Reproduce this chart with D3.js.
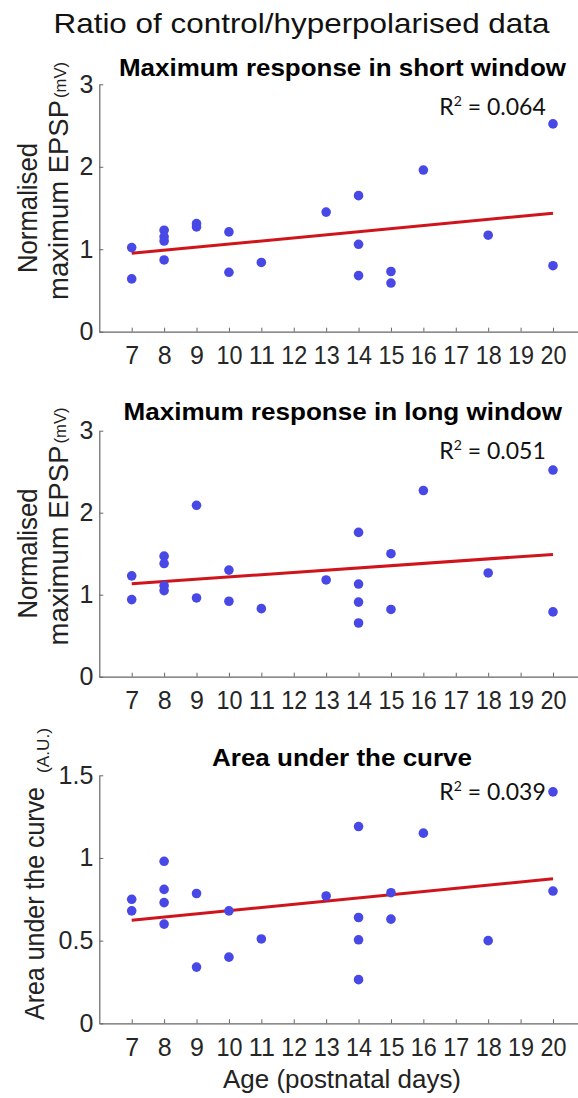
<!DOCTYPE html>
<html>
<head>
<meta charset="utf-8">
<script src="https://cdn.jsdelivr.net/npm/d3@7"></script>
<style>
  html, body { margin: 0; padding: 0; background: #fff; }
  svg { display: block; }
</style>
</head>
<body>
<svg id="chart"></svg>
<script>
// ages (postnatal days) and values for each panel
const agesShort = [7, 7, 8, 8, 8, 8, 9, 9, 10, 10, 11, 13, 14, 14, 14, 15, 15, 16, 18, 20, 20];
const valuesShort = [1.02, 0.64, 1.23, 1.15, 1.10, 0.87, 1.31, 1.27, 1.21, 0.72, 0.84, 1.45, 1.65, 1.06, 0.68, 0.73, 0.59, 1.96, 1.17, 2.52, 0.80];

const agesLong = [7, 7, 8, 8, 8, 8, 9, 9, 10, 10, 11, 13, 14, 14, 14, 14, 15, 15, 16, 18, 20, 20];
const valuesLong = [1.23, 0.94, 1.47, 1.38, 1.11, 1.05, 2.09, 0.96, 1.30, 0.92, 0.83, 1.18, 1.76, 1.13, 0.91, 0.655, 1.50, 0.82, 2.27, 1.265, 2.52, 0.79];

const agesArea = [7, 7, 8, 8, 8, 8, 9, 9, 10, 10, 11, 13, 14, 14, 14, 14, 15, 15, 16, 18, 20, 20];
const valuesArea = [0.75, 0.68, 0.98, 0.81, 0.73, 0.60, 0.785, 0.34, 0.68, 0.40, 0.51, 0.77, 1.19, 0.64, 0.505, 0.264, 0.79, 0.63, 1.15, 0.50, 1.40, 0.80];

const ageTicks = [7, 8, 9, 10, 11, 12, 13, 14, 15, 16, 17, 18, 19, 20];
const panelTitles = ["Maximum response in short window", "Maximum response in long window", "Area under the curve"];
const rSquared = ["0.064", "0.051", "0.039"];
const yTicksMv = [0, 1, 2, 3];
const yTicksArea = [0, 0.5, 1, 1.5];

const width = 578, height = 1098;
const font = "'Liberation Sans', Arial, Helvetica, sans-serif";

const svg = d3.select("#chart").attr("width", width).attr("height", height);
svg.append("rect").attr("width", width).attr("height", height).attr("fill", "#fff");

// Titre principal
svg.append("text")
  .attr("x", 53.5).attr("y", 33)
  .attr("textLength", 496).attr("lengthAdjust", "spacingAndGlyphs")
  .style("font-family", font).style("font-size", "28px").style("fill", "#111")
  .text("Ratio of control/hyperpolarised data");

const x = d3.scaleLinear().domain([6, 21]).range([99.3, 585.4]);

const panels = [
  { ages: agesShort, values: valuesShort, yMax: 3, yTicks: yTicksMv, top: 84.3, bottom: 331.7,
    title: panelTitles[0], titleX: 119, titleW: 447, titleY: 76, r2: rSquared[0], r2Y: 115 },
  { ages: agesLong, values: valuesLong, yMax: 3, yTicks: yTicksMv, top: 430.7, bottom: 676.7,
    title: panelTitles[1], titleX: 123.5, titleW: 438.5, titleY: 420, r2: rSquared[1], r2Y: 459 },
  { ages: agesArea, values: valuesArea, yMax: 1.5, yTicks: yTicksArea, top: 775.3, bottom: 1023.3,
    title: panelTitles[2], titleX: 212, titleW: 260, titleY: 766, r2: rSquared[2], r2Y: 800 }
];

// droite des moindres carres
function fitLine(xs, ys) {
  const mx = d3.mean(xs), my = d3.mean(ys);
  let sxy = 0, sxx = 0;
  xs.forEach((v, i) => { sxy += (v - mx) * (ys[i] - my); sxx += (v - mx) * (v - mx); });
  const slope = sxy / sxx;
  const x0 = d3.min(xs), x1 = d3.max(xs);
  return [[x0, my + slope * (x0 - mx)], [x1, my + slope * (x1 - mx)]];
}

panels.forEach(p => {
  const y = d3.scaleLinear().domain([0, p.yMax]).range([p.bottom, p.top]);
  const g = svg.append("g");

  // axe x
  const xAxis = g.append("g")
    .attr("transform", `translate(0,${p.bottom})`)
    .call(d3.axisBottom(x).tickValues(ageTicks).tickSizeInner(-4).tickSizeOuter(0).tickPadding(15));
  // axe y
  const yAxis = g.append("g")
    .attr("transform", `translate(${x.range()[0]},0)`)
    .call(d3.axisLeft(y).tickValues(p.yTicks).tickFormat(d3.format("~g")).tickSizeInner(-4).tickSizeOuter(0).tickPadding(6));

  [xAxis, yAxis].forEach(a => {
    a.select(".domain").attr("stroke", "#666").attr("stroke-width", 1.2);
    a.selectAll(".tick line").attr("stroke", "#666");
    a.selectAll(".tick text").style("font-family", font).style("font-size", "25px").attr("fill", "#262626");
  });
  xAxis.selectAll(".tick text").attr("textLength", d => d >= 10 ? 26 : null)
    .attr("lengthAdjust", "spacingAndGlyphs");

  // titre du panneau
  g.append("text")
    .attr("x", p.titleX).attr("y", p.titleY)
    .attr("textLength", p.titleW).attr("lengthAdjust", "spacingAndGlyphs")
    .style("font-family", font).style("font-size", "23px").style("font-weight", "bold").style("fill", "#000")
    .text(p.title);

  // R2
  const r2 = g.append("text")
    .attr("x", 439.3).attr("y", p.r2Y)
    .style("font-family", "Lato, 'Open Sans', sans-serif").style("font-size", "23px").style("fill", "#111");
  r2.append("tspan").text("R");
  r2.append("tspan").attr("dy", -9).style("font-size", "14px").text("2");
  r2.append("tspan").attr("dy", 9).text(" = " + p.r2);

  // droite de regression
  const line = fitLine(p.ages, p.values);
  g.append("path")
    .attr("d", d3.line().x(d => x(d[0])).y(d => y(d[1]))(line))
    .attr("fill", "none")
    .attr("stroke", "#d0141c")
    .attr("stroke-width", 3);

  // points
  g.selectAll("circle")
    .data(p.ages.map((a, i) => [a, p.values[i]]))
    .enter().append("circle")
    .attr("cx", d => x(d[0]))
    .attr("cy", d => y(d[1]))
    .attr("r", 4.8)
    .attr("fill", "#4848e6");
});

// etiquettes verticales
function vLabel(txt, bx, startY, len, size, family) {
  svg.append("text")
    .attr("transform", `translate(${bx},${startY}) rotate(-90)`)
    .attr("textLength", len).attr("lengthAdjust", "spacingAndGlyphs")
    .style("font-family", family || font).style("font-size", size + "px").style("fill", "#222")
    .text(txt);
}

[0, 345.5].forEach(off => {
  vLabel("Normalised", 37, 273 + off, 130, 27);
  vLabel("maximum EPSP", 68, 300 + off, 200, 27);
  vLabel("(mV)", 66, 98 + off, 36, 17);
});
vLabel("Area under the curve", 44, 1020, 233, 27);
vLabel("(A.U.)", 49, 773, 45, 16);

// axe x : libelle
svg.append("text")
  .attr("x", 223).attr("y", 1088)
  .attr("textLength", 238).attr("lengthAdjust", "spacingAndGlyphs")
  .style("font-family", font).style("font-size", "25px").style("fill", "#222")
  .text("Age (postnatal days)");
</script>
</body>
</html>
